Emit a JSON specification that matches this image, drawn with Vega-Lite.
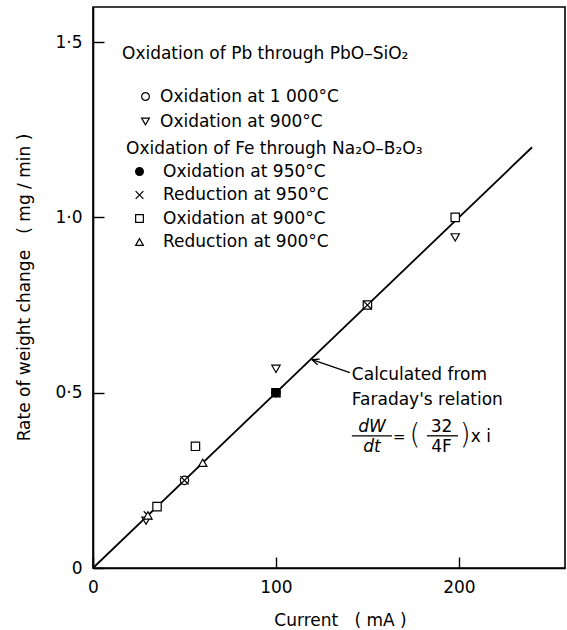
{
  "$schema": "https://vega.github.io/schema/vega-lite/v6.json",
  "width": 472,
  "height": 561,
  "autosize": {"type": "none"},
  "padding": {"left": 93, "top": 7, "right": 2, "bottom": 62},
  "background": "white",
  "config": {
    "font": "DejaVu Sans",
    "view": {"stroke": "black", "strokeWidth": 1.6},
    "axis": {
      "grid": false,
      "domainColor": "black",
      "domainWidth": 1.6,
      "tickColor": "black",
      "tickWidth": 1.4,
      "tickSize": -11,
      "labelFlush": false,
      "labelFont": "DejaVu Sans",
      "labelFontSize": 17,
      "labelColor": "black",
      "titleFont": "DejaVu Sans",
      "titleFontSize": 17,
      "titleFontWeight": "normal",
      "titleColor": "black"
    },
    "legend": {
      "labelFont": "DejaVu Sans",
      "labelFontSize": 17,
      "labelColor": "black",
      "labelLimit": 0,
      "titleFont": "DejaVu Sans",
      "titleFontSize": 17,
      "titleFontWeight": "normal",
      "titleColor": "black",
      "titleLimit": 0,
      "symbolSize": 60,
      "padding": 0
    }
  },
  "datasets": {
    "points": [
      {"group": "Pb", "series": "Oxidation at 1 000°C", "current": 50, "rate": 0.25},
      {"group": "Pb", "series": "Oxidation at 900°C", "current": 29, "rate": 0.135},
      {"group": "Pb", "series": "Oxidation at 900°C", "current": 100, "rate": 0.568},
      {"group": "Pb", "series": "Oxidation at 900°C", "current": 198, "rate": 0.943},
      {"group": "Fe", "series": "Oxidation at 900°C", "current": 35, "rate": 0.175},
      {"group": "Fe", "series": "Oxidation at 900°C", "current": 56, "rate": 0.347},
      {"group": "Fe", "series": "Oxidation at 900°C", "current": 100, "rate": 0.5},
      {"group": "Fe", "series": "Oxidation at 900°C", "current": 150, "rate": 0.75},
      {"group": "Fe", "series": "Oxidation at 900°C", "current": 198, "rate": 1.0},
      {"group": "Fe", "series": "Oxidation at 950°C", "current": 100, "rate": 0.5},
      {"group": "Fe", "series": "Reduction at 950°C", "current": 30, "rate": 0.15},
      {"group": "Fe", "series": "Reduction at 950°C", "current": 50, "rate": 0.25},
      {"group": "Fe", "series": "Reduction at 950°C", "current": 100, "rate": 0.5},
      {"group": "Fe", "series": "Reduction at 950°C", "current": 150, "rate": 0.75},
      {"group": "Fe", "series": "Reduction at 900°C", "current": 30, "rate": 0.15},
      {"group": "Fe", "series": "Reduction at 900°C", "current": 60, "rate": 0.3}
    ],
    "faraday": [
      {"current": 0, "rate": 0},
      {"current": 240, "rate": 1.2}
    ],
    "arrow": [
      {"current": 140.4, "rate": 0.557, "current2": 119.7, "rate2": 0.594}
    ],
    "noteLeft": [
      {"current": 141.5, "rate": 0.551, "text": "Calculated from"},
      {"current": 141.5, "rate": 0.48, "text": "Faraday's relation"},
      {"current": 206.5, "rate": 0.374, "text": "x  i"}
    ],
    "noteEq": [
      {"current": 167.4, "rate": 0.374, "text": "="}
    ],
    "noteItalic": [
      {"current": 152.5, "rate": 0.401, "text": "dW"},
      {"current": 152.5, "rate": 0.346, "text": "dt"}
    ],
    "noteCenter": [
      {"current": 190.5, "rate": 0.403, "text": "32"},
      {"current": 190.5, "rate": 0.346, "text": "4F"}
    ],
    "paren": [
      {"current": 176, "rate": 0.376, "text": "("},
      {"current": 203.5, "rate": 0.376, "text": ")"}
    ],
    "bars": [
      {"current": 141.5, "current2": 163.4, "rate": 0.377},
      {"current": 182.5, "current2": 199.5, "rate": 0.377}
    ]
  },
  "encoding": {
    "x": {
      "field": "current",
      "type": "quantitative",
      "scale": {"domain": [0, 258], "nice": false, "zero": true},
      "axis": {
        "values": [0, 100, 200],
        "title": "Current\u00a0\u00a0\u00a0(\u00a0mA\u00a0)",
        "labelPadding": 22,
        "titleX": 247,
        "titleY": 52,
        "titleBaseline": "middle",
        "titleAnchor": null
      }
    },
    "y": {
      "field": "rate",
      "type": "quantitative",
      "scale": {"domain": [0, 1.6], "nice": false},
      "axis": {
        "values": [0, 0.5, 1, 1.5],
        "labelExpr": "datum.value == 0 ? '0' : replace(format(datum.value, '.1f'), '.', '·')",
        "title": "Rate of weight change\u00a0\u00a0\u00a0(\u00a0mg\u00a0/\u00a0min\u00a0)",
        "labelPadding": 22,
        "titleX": -69,
        "titleY": 280,
        "titleAngle": -90,
        "titleAlign": "center",
        "titleBaseline": "middle"
      }
    }
  },
  "layer": [
    {
      "data": {"name": "faraday"},
      "mark": {"type": "line", "color": "black", "strokeWidth": 1.8}
    },
    {
      "data": {"name": "points"},
      "transform": [{"filter": "datum.group == 'Pb'"}],
      "mark": {"type": "point", "filled": false, "stroke": "black", "strokeWidth": 1.2, "size": 70, "opacity": 1},
      "encoding": {
        "shape": {
          "field": "series",
          "type": "nominal",
          "scale": {"domain": ["Oxidation at 1 000°C", "Oxidation at 900°C"], "range": ["circle", "triangle-down"]},
          "legend": {
            "title": "Oxidation of Pb through PbO–SiO₂",
            "orient": "none",
            "legendX": 29,
            "legendY": 39,
            "titlePadding": 25,
            "rowPadding": 7,
            "symbolOffset": 15,
            "labelOffset": 6,
            "symbolStrokeColor": "black",
            "symbolStrokeWidth": 1.2,
            "symbolOpacity": 1,
            "encode": {
              "symbols": {
                "update": {
                  "stroke": {"value": "black"},
                  "strokeWidth": {"value": 1.2}
                }
              }
            }
          }
        },
        "fill": {
          "field": "series",
          "type": "nominal",
          "scale": {"domain": ["Oxidation at 1 000°C", "Oxidation at 900°C"], "range": ["white", "white"]},
          "legend": {
            "title": "Oxidation of Pb through PbO–SiO₂",
            "orient": "none",
            "legendX": 29,
            "legendY": 39,
            "titlePadding": 25,
            "rowPadding": 7,
            "symbolOffset": 15,
            "labelOffset": 6,
            "symbolStrokeColor": "black",
            "symbolStrokeWidth": 1.2,
            "symbolOpacity": 1,
            "encode": {
              "symbols": {
                "update": {
                  "stroke": {"value": "black"},
                  "strokeWidth": {"value": 1.2}
                }
              }
            }
          }
        }
      }
    },
    {
      "data": {"name": "points"},
      "transform": [{"filter": "datum.group == 'Fe'"}],
      "mark": {"type": "point", "filled": false, "stroke": "black", "strokeWidth": 1.2, "size": 70, "opacity": 1},
      "encoding": {
        "shape": {
          "field": "series",
          "type": "nominal",
          "scale": {
            "domain": ["Oxidation at 950°C", "Reduction at 950°C", "Oxidation at 900°C", "Reduction at 900°C"],
            "range": ["circle", "M-1,-1L1,1M-1,1L1,-1", "square", "triangle-up"]
          },
          "legend": {
            "title": "Oxidation of Fe through Na₂O–B₂O₃",
            "orient": "none",
            "legendX": 33,
            "legendY": 134,
            "titlePadding": 5,
            "rowPadding": 5.5,
            "symbolOffset": 5,
            "labelOffset": 15,
            "symbolStrokeColor": "black",
            "symbolStrokeWidth": 1.2,
            "symbolOpacity": 1,
            "encode": {
              "symbols": {
                "update": {
                  "stroke": {"value": "black"},
                  "strokeWidth": {"value": 1.2}
                }
              }
            }
          }
        },
        "fill": {
          "field": "series",
          "type": "nominal",
          "scale": {
            "domain": ["Oxidation at 950°C", "Reduction at 950°C", "Oxidation at 900°C", "Reduction at 900°C"],
            "range": ["black", "white", "white", "white"]
          },
          "legend": {
            "title": "Oxidation of Fe through Na₂O–B₂O₃",
            "orient": "none",
            "legendX": 33,
            "legendY": 134,
            "titlePadding": 5,
            "rowPadding": 5.5,
            "symbolOffset": 5,
            "labelOffset": 15,
            "symbolStrokeColor": "black",
            "symbolStrokeWidth": 1.2,
            "symbolOpacity": 1,
            "encode": {
              "symbols": {
                "update": {
                  "stroke": {"value": "black"},
                  "strokeWidth": {"value": 1.2}
                }
              }
            }
          }
        }
      }
    },
    {
      "data": {"name": "arrow"},
      "mark": {"type": "rule", "color": "black", "strokeWidth": 1.3},
      "encoding": {
        "x2": {"field": "current2"},
        "y2": {"field": "rate2"}
      }
    },
    {
      "data": {"name": "arrow"},
      "mark": {"type": "point", "shape": "M0,0L1,-0.42M0,0L1,0.42", "size": 200, "angle": 19, "stroke": "black", "strokeWidth": 1.3, "filled": false, "opacity": 1},
      "encoding": {
        "x": {"field": "current2", "type": "quantitative"},
        "y": {"field": "rate2", "type": "quantitative"}
      }
    },
    {
      "data": {"name": "noteLeft"},
      "mark": {"type": "text", "align": "left", "baseline": "middle", "fontSize": 17, "color": "black"},
      "encoding": {"text": {"field": "text"}}
    },
    {
      "data": {"name": "noteEq"},
      "mark": {"type": "text", "align": "center", "baseline": "middle", "fontSize": 15, "color": "black"},
      "encoding": {"text": {"field": "text"}}
    },
    {
      "data": {"name": "noteItalic"},
      "mark": {"type": "text", "align": "center", "baseline": "middle", "fontSize": 17, "fontStyle": "italic", "color": "black"},
      "encoding": {"text": {"field": "text"}}
    },
    {
      "data": {"name": "noteCenter"},
      "mark": {"type": "text", "align": "center", "baseline": "middle", "fontSize": 17, "color": "black"},
      "encoding": {"text": {"field": "text"}}
    },
    {
      "data": {"name": "paren"},
      "mark": {"type": "text", "align": "center", "baseline": "middle", "fontSize": 28, "fontWeight": 300, "color": "black"},
      "encoding": {"text": {"field": "text"}}
    },
    {
      "data": {"name": "bars"},
      "mark": {"type": "rule", "color": "black", "strokeWidth": 1.3},
      "encoding": {"x2": {"field": "current2"}}
    }
  ],
  "resolve": {
    "scale": {"shape": "independent", "fill": "independent"},
    "legend": {"shape": "independent", "fill": "independent"}
  }
}
